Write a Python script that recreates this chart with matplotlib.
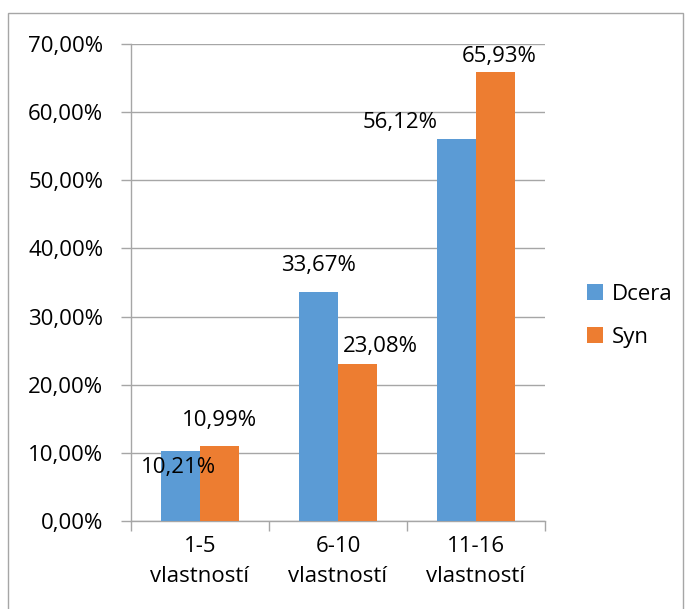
import numpy as np
import matplotlib
matplotlib.use('Agg')
import matplotlib.pyplot as plt
from matplotlib.patches import Rectangle
from matplotlib.ticker import FuncFormatter

# data
categories = ['1-5\nvlastností', '6-10\nvlastností', '11-16\nvlastností']
dcera = [0.1021, 0.3367, 0.5612]
syn = [0.1099, 0.2308, 0.6593]
series_names = ['Dcera', 'Syn']

plt.rcParams['font.family'] = ['Open Sans', 'DejaVu Sans']
fs = 16
grey = '#a6a6a6'

fig = plt.figure(figsize=(6.86, 6.09), dpi=100)
ax = fig.add_axes([131/686, 88/609, 414/686, 477/609])

# outer chart border (bottom edge is cut off in the reference)
fig.patches.append(Rectangle((8/686, -0.02), 675/686, (609 - 13)/609 + 0.02,
                             transform=fig.transFigure, fill=False,
                             edgecolor=grey, lw=1.0, clip_on=False))

x = np.arange(len(categories))
w = 0.283
b1 = ax.bar(x - w/2, dcera, w, color='#5b9bd5', label=series_names[0], zorder=3)
b2 = ax.bar(x + w/2, syn, w, color='#ed7d31', label=series_names[1], zorder=3)

def pct(v):
    return f'{v*100:.2f}%'.replace('.', ',')

# data labels were dragged around in the original, so offsets (px) per bar
off1 = [(-2, -16), (0, 26), (-56, 16)]
off2 = [(0, 26), (23, 17), (4, 15)]
for bars, vals, offs in [(b1, dcera, off1), (b2, syn, off2)]:
    for bar, v, (dx, dy) in zip(bars, vals, offs):
        ax.annotate(pct(v), (bar.get_x() + bar.get_width()/2, v),
                    xytext=(dx, dy), textcoords='offset pixels',
                    ha='center', va='center', fontsize=fs, color='black',
                    zorder=4)

ax.set_xlim(-0.5, 2.5)
ax.set_ylim(0, 0.7)
ax.set_yticks(np.arange(0, 0.71, 0.1))
ax.yaxis.set_major_formatter(FuncFormatter(lambda v, p: pct(v)))
ax.grid(axis='y', color=grey, lw=1.0, zorder=0)

# category ticks sit between the groups, labels in the middle
ax.set_xticks([-0.5, 0.5, 1.5, 2.5])
ax.set_xticklabels([])
ax.set_xticks(x, minor=True)
ax.set_xticklabels(categories, minor=True, fontsize=fs, linespacing=1.55)
ax.tick_params(axis='x', which='minor', length=0, pad=11)
ax.tick_params(axis='x', which='major', length=7, color=grey, width=1.0)
ax.tick_params(axis='y', length=7, color=grey, width=1.0, pad=13, labelsize=fs)

for s in ['top', 'right']:
    ax.spines[s].set_visible(False)
for s in ['left', 'bottom']:
    ax.spines[s].set_color(grey)
    ax.spines[s].set_linewidth(1.0)

ax.legend(loc='center left', bbox_to_anchor=(1.08, 0.43), frameon=False,
          fontsize=fs, handlelength=0.7, handleheight=0.7, handletextpad=0.4,
          labelspacing=1.0, borderaxespad=0.0)

plt.savefig('out.png', dpi=100)
